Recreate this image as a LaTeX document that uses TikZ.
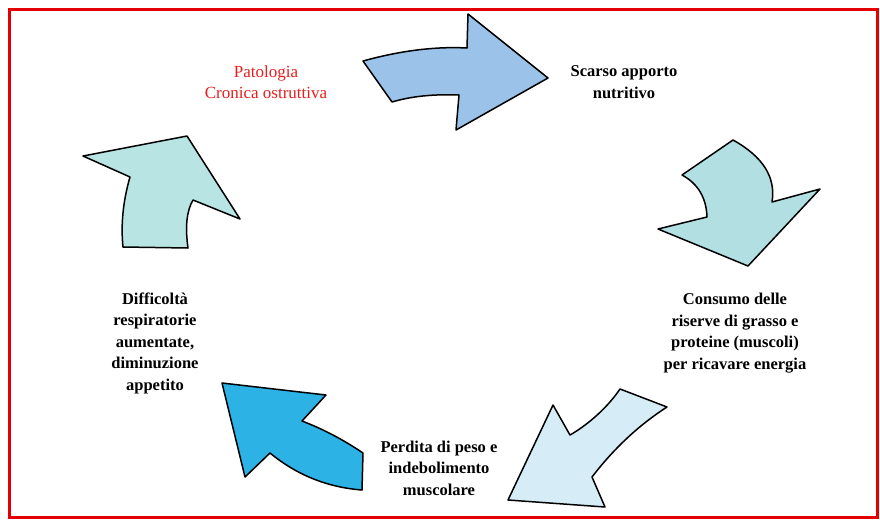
\documentclass[tikz,border=0pt]{standalone}
\usepackage{fontspec}
\setmainfont{Liberation Serif}
\definecolor{fillA}{RGB}{155,194,232}
\definecolor{fillB}{RGB}{178,224,226}
\definecolor{fillC}{RGB}{214,237,247}
\definecolor{fillD}{RGB}{45,178,230}
\definecolor{fillE}{RGB}{184,228,228}
\definecolor{redtxt}{RGB}{232,30,30}
\definecolor{redline}{RGB}{228,0,0}
\tikzset{
  cyclearrow/.style={draw=black, line width=1.5pt, line join=round},
  blacktext/.style={align=center, font=\fontsize{16.5}{21.5}\selectfont\bfseries, text=black, inner sep=0pt},
  redtext/.style={align=center, font=\fontsize{17}{20.5}\selectfont, text=redtxt, inner sep=0pt}
}
\begin{document}
\begin{tikzpicture}[x=1pt,y=-1pt]
\useasboundingbox (0,0) rectangle (880,520);
\fill[white] (0,0) rectangle (880,520);
\draw[redline, line width=3pt] (9,9) rectangle (877,517);

% top arrow (right)
\draw[cyclearrow, fill=fillA] (363,61) .. controls (400.3,50.7) and (435,46.3) .. (467,48) -- (468,14) -- (548,78) -- (456,130) -- (459,95) .. controls (433.3,94) and (411,96.3) .. (392,102) -- cycle;
% right arrow (down)
\draw[cyclearrow, fill=fillB] (733,140) -- (682,175) .. controls (698,183.7) and (706.3,197.7) .. (707,217) -- (658,229) -- (748,266) -- (820,189) -- (772,202) .. controls (776,177.3) and (763,156.7) .. (733,140) -- cycle;
% bottom right arrow (down-left)
\draw[cyclearrow, fill=fillC] (620,389) -- (667,407) .. controls (639,425) and (614,448.3) .. (592,477) -- (605,507) -- (508,500) -- (553,405) -- (570,435) .. controls (584,427) and (605,411) .. (620,389) -- cycle;
% bottom left arrow (up-left)
\draw[cyclearrow, fill=fillD] (222,383) -- (326,395) -- (302,421) .. controls (323,429) and (343.3,439.7) .. (363,453) -- (362,490) .. controls (327.3,487.3) and (296.7,475) .. (270,453) -- (245,477) -- cycle;
% left arrow (up-right)
\draw[cyclearrow, fill=fillE] (83,156) -- (187,136) -- (240,219) -- (193,200) .. controls (186.7,210.7) and (185,226.7) .. (188,248) -- (123,247) .. controls (120.7,225) and (123,201) .. (130,177) -- cycle;

\node[redtext] (pat) at (266,82) {Patologia\\Cronica ostruttiva};
\node[blacktext] (sca) at (624,82) {Scarso apporto\\nutritivo};
\node[blacktext] (con) at (735,333) {Consumo delle\\riserve di grasso e\\proteine (muscoli)\\per ricavare energia};
\node[blacktext] (per) at (439,468) {Perdita di peso e\\indebolimento\\muscolare};
\node[blacktext] (dif) at (155,343) {Difficoltà\\respiratorie\\aumentate,\\diminuzione\\appetito};
\end{tikzpicture}
\end{document}
